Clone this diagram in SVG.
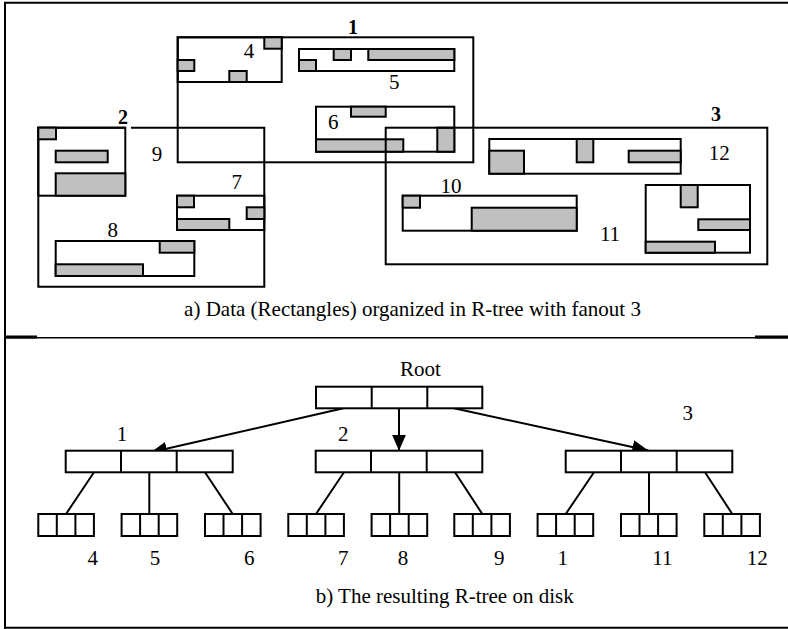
<svg xmlns="http://www.w3.org/2000/svg" width="788" height="629" viewBox="0 0 788 629">
  <style>
    .frame { fill: none; stroke: #000; stroke-width: 2; }
    .mbr { fill: none; stroke: #000; stroke-width: 2; }
    .obj { fill: #c0c0c0; stroke: #000; stroke-width: 2; }
    .cell { fill: #fff; stroke: #000; stroke-width: 2; }
    .edge { fill: none; stroke: #000; stroke-width: 2; }
    .ptr { fill: none; stroke: #000; stroke-width: 2; marker-end: url(#head); }
    text { font-family: "Liberation Serif", "Times New Roman", serif; font-size: 21px; fill: #000; }
    .lbl { text-anchor: middle; }
    .bold { font-weight: bold; font-size: 20px; }
  </style>
  <defs>
    <marker id="head" markerUnits="userSpaceOnUse" markerWidth="17" markerHeight="14" refX="16" refY="7" orient="auto">
      <path d="M0,0 L16,7 L0,14 z" fill="#000"/>
    </marker>
  </defs>

  <rect width="788" height="629" fill="#fff"/>

  <!-- outer frame and panel divider -->
  <g id="frame">
    <path class="frame" d="M5,629 V2.7 H788"/>
    <path class="frame" d="M5,627.7 H788"/>
    <path d="M5,337.7 H788" stroke="#000" stroke-width="1.6"/>
    <path d="M5,337 H37 M755,337 H788" stroke="#000" stroke-width="3"/>
  </g>

  <!-- panel a: spatial layout of the rectangles -->
  <g id="mbr-1">
    <rect class="mbr" x="177.7" y="37.3" width="295.6" height="125"/>
    <text class="lbl bold" x="353" y="33.5">1</text>
  </g>
  <g id="mbr-4">
    <rect class="mbr" x="177.7" y="37.3" width="104" height="44.7"/>
    <rect class="obj" x="177.7" y="60" width="16.6" height="11"/>
    <rect class="obj" x="229.3" y="71" width="17.4" height="11"/>
    <rect class="obj" x="264.3" y="37.3" width="17.4" height="11.4"/>
    <text class="lbl" x="249" y="58">4</text>
  </g>
  <g id="mbr-5">
    <rect class="mbr" x="299" y="49" width="155.3" height="22"/>
    <rect class="obj" x="299" y="60" width="17" height="11"/>
    <rect class="obj" x="333.7" y="49" width="17.3" height="11"/>
    <rect class="obj" x="368.3" y="49" width="86" height="11"/>
    <text class="lbl" x="394.3" y="89">5</text>
  </g>
  <g id="mbr-6">
    <rect class="mbr" x="316" y="106.7" width="138.3" height="45"/>
    <rect class="obj" x="351" y="106.7" width="34.7" height="10"/>
    <rect class="obj" x="316" y="139.3" width="87.3" height="12.4"/>
    <rect class="obj" x="437.3" y="127.7" width="17" height="24"/>
    <text class="lbl" x="333.3" y="129">6</text>
  </g>

  <g id="mbr-2">
    <path class="mbr" d="M131,127.7 H264.3 V286.7 H38.3 V127.7 H125.3"/>
    <text class="lbl bold" x="123" y="123.5">2</text>
  </g>
  <g id="mbr-9">
    <rect class="mbr" x="38.3" y="127.7" width="87" height="68"/>
    <rect class="obj" x="38.3" y="127.7" width="17.7" height="11.6"/>
    <rect class="obj" x="55.7" y="150.7" width="52" height="11.6"/>
    <rect class="obj" x="55.7" y="173.3" width="69.6" height="22.4"/>
    <text class="lbl" x="157" y="160.5">9</text>
  </g>
  <g id="mbr-7">
    <rect class="mbr" x="177" y="195.7" width="87.3" height="34.3"/>
    <rect class="obj" x="177" y="195.7" width="17" height="11.6"/>
    <rect class="obj" x="246.7" y="207.3" width="17.6" height="11.7"/>
    <rect class="obj" x="177" y="219" width="52.3" height="11"/>
    <text class="lbl" x="236.7" y="189">7</text>
  </g>
  <g id="mbr-8">
    <rect class="mbr" x="55.7" y="241" width="138.6" height="35"/>
    <rect class="obj" x="159.7" y="241" width="34.6" height="11.7"/>
    <rect class="obj" x="55.7" y="264.3" width="87.3" height="11.7"/>
    <text class="lbl" x="112.7" y="236.5">8</text>
  </g>

  <g id="mbr-3">
    <rect class="mbr" x="385.7" y="127.7" width="381.6" height="136.6"/>
    <text class="lbl bold" x="716" y="120.5">3</text>
  </g>
  <g id="mbr-12">
    <rect class="mbr" x="489.3" y="139" width="191.4" height="34.7"/>
    <rect class="obj" x="489.3" y="150.7" width="34.7" height="23"/>
    <rect class="obj" x="576.7" y="139" width="16.6" height="23.3"/>
    <rect class="obj" x="628.7" y="150.7" width="52" height="11.6"/>
    <text class="lbl" x="719.3" y="160">12</text>
  </g>
  <g id="mbr-10">
    <rect class="mbr" x="402.7" y="195.7" width="174" height="35"/>
    <rect class="obj" x="402.7" y="195.7" width="17.3" height="12"/>
    <rect class="obj" x="471.7" y="207.7" width="105" height="23"/>
    <text class="lbl" x="451" y="192.5">10</text>
  </g>
  <g id="mbr-11">
    <rect class="mbr" x="645.7" y="185" width="104.3" height="67.7"/>
    <rect class="obj" x="680.7" y="185" width="17" height="22.3"/>
    <rect class="obj" x="698.3" y="219.3" width="51.7" height="10.7"/>
    <rect class="obj" x="645.7" y="241.7" width="69.3" height="11"/>
    <text class="lbl" x="610" y="240.5">11</text>
  </g>

  <text class="lbl" x="412.5" y="315.5">a) Data (Rectangles) organized in R-tree with fanout 3</text>

  <!-- panel b: tree on disk -->
  <g id="connectors">
    <path class="ptr" d="M343.3,408.3 L151,452.3"/>
    <path class="ptr" d="M399,408.3 L399,450.7"/>
    <path class="ptr" d="M454,408.3 L648.3,450.5"/>
    <path class="edge" d="M94,472.3 L66,514 M149.3,472.3 V514 M205,472.3 L232.7,514"/>
    <path class="edge" d="M344,472.3 L316,514 M399.2,472.3 V514 M455,472.3 L482.3,514"/>
    <path class="edge" d="M594,472.3 L565.7,514 M649,472.3 V514 M705,472.3 L732.3,514"/>
  </g>

  <g id="node-root">
    <rect class="cell" x="316" y="386.7" width="166.3" height="21.6"/>
    <path class="edge" d="M371.7,386.7 V408.3 M427.3,386.7 V408.3"/>
    <text x="400" y="376">Root</text>
  </g>
  <g id="node-1">
    <rect class="cell" x="65.7" y="450.7" width="167" height="21.6"/>
    <path class="edge" d="M121,450.7 V472.3 M176.7,450.7 V472.3"/>
    <text class="lbl" x="122" y="440.5">1</text>
  </g>
  <g id="node-2">
    <rect class="cell" x="315.7" y="450.7" width="166.6" height="21.6"/>
    <path class="edge" d="M371,450.7 V472.3 M426.7,450.7 V472.3"/>
    <text class="lbl" x="343.3" y="440.5">2</text>
  </g>
  <g id="node-3">
    <rect class="cell" x="565.7" y="450.7" width="166.6" height="21.6"/>
    <path class="edge" d="M621,450.7 V472.3 M676.7,450.7 V472.3"/>
    <text class="lbl" x="687.7" y="420">3</text>
  </g>

  <g id="leaf-4">
    <rect class="cell" x="38.3" y="514" width="55.6" height="22"/>
    <path class="edge" d="M56.8,514 V536 M75.4,514 V536"/>
    <text class="lbl" x="92.7" y="565">4</text>
  </g>
  <g id="leaf-5">
    <rect class="cell" x="121.6" y="514" width="55.6" height="22"/>
    <path class="edge" d="M140.1,514 V536 M158.7,514 V536"/>
    <text class="lbl" x="155" y="565">5</text>
  </g>
  <g id="leaf-6">
    <rect class="cell" x="205" y="514" width="55.6" height="22"/>
    <path class="edge" d="M223.5,514 V536 M242.1,514 V536"/>
    <text class="lbl" x="249.3" y="565">6</text>
  </g>
  <g id="leaf-7">
    <rect class="cell" x="288.3" y="514" width="55.6" height="22"/>
    <path class="edge" d="M306.8,514 V536 M325.4,514 V536"/>
    <text class="lbl" x="343.3" y="565">7</text>
  </g>
  <g id="leaf-8">
    <rect class="cell" x="371.6" y="514" width="55.6" height="22"/>
    <path class="edge" d="M390.1,514 V536 M408.7,514 V536"/>
    <text class="lbl" x="403" y="565">8</text>
  </g>
  <g id="leaf-9">
    <rect class="cell" x="454.3" y="514" width="55.6" height="22"/>
    <path class="edge" d="M472.8,514 V536 M491.4,514 V536"/>
    <text class="lbl" x="499.3" y="565">9</text>
  </g>
  <g id="leaf-1">
    <rect class="cell" x="537.6" y="514" width="55.6" height="22"/>
    <path class="edge" d="M556.1,514 V536 M574.7,514 V536"/>
    <text class="lbl" x="562.7" y="565">1</text>
  </g>
  <g id="leaf-11">
    <rect class="cell" x="621" y="514" width="55.6" height="22"/>
    <path class="edge" d="M639.5,514 V536 M658.1,514 V536"/>
    <text class="lbl" x="662.3" y="565">11</text>
  </g>
  <g id="leaf-12">
    <rect class="cell" x="704.3" y="514" width="55.6" height="22"/>
    <path class="edge" d="M722.8,514 V536 M741.4,514 V536"/>
    <text class="lbl" x="757.3" y="565">12</text>
  </g>

  <text x="315.7" y="603">b) The resulting R-tree on disk</text>
</svg>
